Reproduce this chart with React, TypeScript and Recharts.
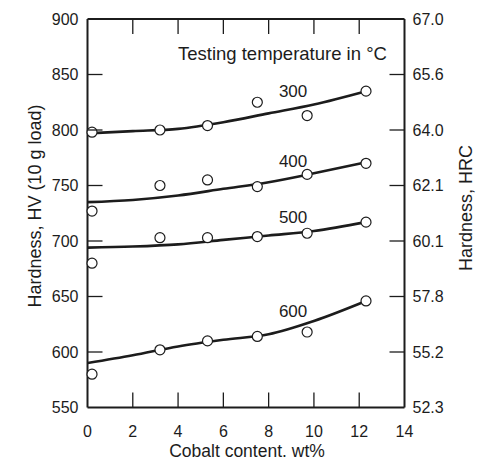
import { ComposedChart, Line, Scatter, XAxis, YAxis, ReferenceDot } from "recharts";

// measured cobalt content of the samples, wt%
const cobalt = [0.2, 3.2, 5.3, 7.5, 9.7, 12.3];

// hardness HV per testing temperature (circles)
const hv300 = [798, 800, 804, 825, 813, 835];
const hv400 = [727, 750, 755, 749, 760, 770];
const hv500 = [680, 703, 703, 704, 707, 717];
const hv600 = [580, 602, 610, 614, 618, 646];

// fitted curves
const fitX = [0, 2, 4, 6, 8, 10, 12.3];
const fit300 = [797, 799, 801, 807, 815, 823, 835];
const fit400 = [735, 737, 741, 747, 753, 761, 771];
const fit500 = [694, 695, 697, 701, 705, 709, 717];
const fit600 = [590, 597, 605, 611, 616, 628, 646];

const xTicks = [0, 2, 4, 6, 8, 10, 12, 14];
const hvTicks = [550, 600, 650, 700, 750, 800, 850, 900];
const hrcLabels = ["52.3", "55.2", "57.8", "60.1", "62.1", "64.0", "65.6", "67.0"];

const notes = [
  { text: "Testing temperature in °C", x: 8.61, y: 869, size: 18.5 },
  { text: "300", x: 9.08, y: 835, size: 17 },
  { text: "400", x: 9.08, y: 772, size: 17 },
  { text: "500", x: 9.08, y: 722, size: 17 },
  { text: "600", x: 9.08, y: 637, size: 17 },
];

const FONT = "'Liberation Sans', Arial, Helvetica, sans-serif";
const INK = "#1c1c1c";
const TICK = 15;

const pts = (xs: number[], ys: number[]) => ys.map((y, i) => ({ x: xs[i], y }));

const Circle = (p: any) => (
  <circle cx={p.cx} cy={p.cy} r={5} fill="#fff" stroke={INK} strokeWidth={1.2} />
);

const inner = (i: number, n: number) => i > 0 && i < n - 1;

const LeftTick = (p: any) => (
  <g>
    {inner(p.index, hvTicks.length) && (
      <line x1={p.x} x2={p.x + TICK} y1={p.y} y2={p.y} stroke={INK} strokeWidth={1.3} />
    )}
    <text x={p.x - 9} y={p.y} dy="0.36em" textAnchor="end" fontSize={16} fill={INK} fontFamily={FONT}>
      {p.payload.value}
    </text>
  </g>
);

const RightTick = (p: any) => (
  <g>
    {inner(p.index, hvTicks.length) && (
      <line x1={p.x} x2={p.x - TICK} y1={p.y} y2={p.y} stroke={INK} strokeWidth={1.3} />
    )}
    <text x={p.x + 8} y={p.y} dy="0.36em" textAnchor="start" fontSize={16} fill={INK} fontFamily={FONT}>
      {hrcLabels[p.index]}
    </text>
  </g>
);

const BottomTick = (p: any) => (
  <g>
    {inner(p.index, xTicks.length) && (
      <line x1={p.x} x2={p.x} y1={p.y} y2={p.y - TICK} stroke={INK} strokeWidth={1.3} />
    )}
    <text x={p.x} y={p.y + 29.5} textAnchor="middle" fontSize={16} fill={INK} fontFamily={FONT}>
      {p.payload.value}
    </text>
  </g>
);

const TopTick = (p: any) =>
  inner(p.index, xTicks.length) ? (
    <line x1={p.x} x2={p.x} y1={p.y} y2={p.y + TICK} stroke={INK} strokeWidth={1.3} />
  ) : (
    <g />
  );

const title = (text: string, x: number, y: number, rot: boolean, size = 18) => () => (
  <text
    transform={`translate(${x},${y})${rot ? " rotate(-90)" : ""}`}
    textAnchor="middle"
    dy={rot ? "0.36em" : 0}
    fontSize={size}
    fill={INK}
    fontFamily={FONT}
  >
    {text}
  </text>
);

const axisLine = { stroke: INK, strokeWidth: 2 };

export default function App() {
  const series = [fit300, fit400, fit500, fit600];
  const dots = [hv300, hv400, hv500, hv600];
  return (
    <div style={{ position: "absolute", left: 0, top: 0, background: "#fff" }}>
      <ComposedChart width={481} height={459} margin={{ top: 18, right: 0, bottom: 0, left: 0 }}>
        <XAxis
          xAxisId="b"
          dataKey="x"
          type="number"
          domain={[0, 14]}
          ticks={xTicks}
          interval={0}
          height={51.5}
          tickSize={0}
          tickMargin={0}
          tickLine={false}
          axisLine={axisLine}
          tick={BottomTick}
          label={{ content: title("Cobalt content. wt%", 247, 456.5, false, 17.5) }}
        />
        <XAxis
          xAxisId="t"
          orientation="top"
          dataKey="x"
          type="number"
          domain={[0, 14]}
          ticks={xTicks}
          interval={0}
          height={1}
          tickSize={0}
          tickMargin={0}
          tickLine={false}
          axisLine={axisLine}
          tick={TopTick}
        />
        <YAxis
          yAxisId="l"
          dataKey="y"
          type="number"
          domain={[550, 900]}
          ticks={hvTicks}
          interval={0}
          width={87.5}
          tickSize={0}
          tickMargin={0}
          tickLine={false}
          axisLine={axisLine}
          tick={LeftTick}
          label={{ content: title("Hardness, HV (10 g load)", 35, 206, true) }}
        />
        <YAxis
          yAxisId="r"
          orientation="right"
          dataKey="y"
          type="number"
          domain={[550, 900]}
          ticks={hvTicks}
          interval={0}
          width={76.5}
          tickSize={0}
          tickMargin={0}
          tickLine={false}
          axisLine={axisLine}
          tick={RightTick}
          label={{ content: title("Hardness, HRC", 466, 208, true) }}
        />
        {/* invisible carrier so the top and right frame axes get drawn */}
        <Line
          xAxisId="t"
          yAxisId="r"
          data={pts(fitX, fit300)}
          dataKey="y"
          stroke="none"
          dot={false}
          activeDot={false}
          isAnimationActive={false}
        />
        {series.map((s, i) => (
          <Line
            key={"f" + i}
            xAxisId="b"
            yAxisId="l"
            data={pts(fitX, s)}
            dataKey="y"
            type="monotone"
            stroke={INK}
            strokeWidth={2.6}
            dot={false}
            activeDot={false}
            isAnimationActive={false}
          />
        ))}
        {dots.map((d, i) => (
          <Scatter
            key={"d" + i}
            xAxisId="b"
            yAxisId="l"
            data={pts(cobalt, d)}
            dataKey="y"
            shape={Circle}
            isAnimationActive={false}
          />
        ))}
        {notes.map((n) => (
          <ReferenceDot
            key={n.text}
            xAxisId="b"
            yAxisId="l"
            x={n.x}
            y={n.y}
            r={0}
            fill="none"
            stroke="none"
            label={{ value: n.text, position: "center", fontSize: n.size, fill: INK, fontFamily: FONT }}
          />
        ))}
      </ComposedChart>
    </div>
  );
}
